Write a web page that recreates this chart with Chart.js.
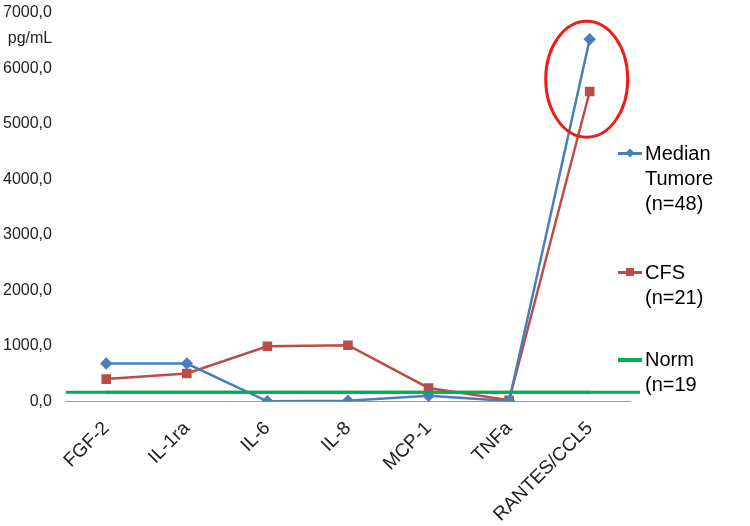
<!DOCTYPE html>
<html>
<head>
<meta charset="utf-8">
<script src="https://cdn.jsdelivr.net/npm/chart.js@4/dist/chart.umd.min.js"></script>
<style>
  body { margin: 0; background: #fff; font-family: "Liberation Sans", Arial, sans-serif; }
  #wrap { position: relative; width: 750px; height: 526px; overflow: hidden; }
  #chart { position: absolute; left: 0; top: -11px; }
  .leg { position: absolute; left: 618px; font-size: 20px; line-height: 25px; color: #000; }
  .leg .mk { position: absolute; left: 0; top: 11px; width: 24px; height: 3px; }
  .leg .pt { position: absolute; left: 8px; width: 8px; height: 8px; }
  .leg .txt { margin-left: 27px; }
</style>
</head>
<body>
<div id="wrap">
  <canvas id="chart" width="750" height="554"></canvas>
  <div class="leg" style="top:141px"><div class="mk" style="background:#4a7ebb"></div><div class="pt" style="background:#4a7ebb;top:8px;transform:rotate(45deg) scale(0.8)"></div><div class="txt">Median<br>Tumore<br>(n=48)</div></div>
  <div class="leg" style="top:260px"><div class="mk" style="background:#be4b48"></div><div class="pt" style="background:#be4b48;top:8px"></div><div class="txt">CFS<br>(n=21)</div></div>
  <div class="leg" style="top:347px"><div class="mk" style="background:#00b050;height:4px"></div><div class="txt">Norm<br>(n=19</div></div>
</div>
<script>
var categories = ["FGF-2", "IL-1ra", "IL-6", "IL-8", "MCP-1", "TNFa", "RANTES/CCL5"];
var medianTumore = [680, 680, 0, 10, 100, 5, 6520];
var cfs = [400, 500, 990, 1010, 240, 20, 5580];
var norm = [165, 165, 165, 165, 165, 165, 165];
var yTicks = [0, 1000, 2000, 3000, 4000, 5000, 6000, 7000];

// extends the Norm line over the full axis, adds unit label and red ellipse
var extras = {
    id: "extras",
    afterDatasetsDraw: function (chart) {
        var ctx = chart.ctx;
        var x = chart.scales.x;
        var y = chart.scales.y;
        var area = chart.chartArea;

        var ny = y.getPixelForValue(norm[0]);
        ctx.save();
        ctx.strokeStyle = "#00b050";
        ctx.lineWidth = 3;
        ctx.beginPath();
        ctx.moveTo(area.left, ny);
        ctx.lineTo(area.right + 10, ny);
        ctx.stroke();

        var cx = x.getPixelForValue(categories.length - 1);
        var cy = y.getPixelForValue(5800);
        ctx.strokeStyle = "#ee1c1c";
        ctx.lineWidth = 3;
        ctx.beginPath();
        ctx.ellipse(cx - 3, cy, 41, 58, 0, 0, Math.PI * 2);
        ctx.stroke();

        ctx.fillStyle = "#222";
        ctx.font = "16px 'Liberation Sans', Arial";
        ctx.textAlign = "center";
        ctx.fillText("pg/mL", 30, 54);
        ctx.restore();
    }
};

function createChart() {
    return new Chart(document.getElementById("chart"), {
        type: "line",
        data: {
            labels: categories,
            datasets: [{
                label: "Median Tumore (n=48)",
                data: medianTumore,
                borderColor: "#4a7ebb",
                backgroundColor: "#4a7ebb",
                borderWidth: 2.5,
                pointStyle: "rectRot",
                pointRadius: 4.5,
                tension: 0
            }, {
                label: "CFS (n=21)",
                data: cfs,
                borderColor: "#be4b48",
                backgroundColor: "#be4b48",
                borderWidth: 2.5,
                pointStyle: "rect",
                pointRadius: 5,
                tension: 0
            }, {
                label: "Norm (n=19",
                data: norm,
                borderColor: "#00b050",
                borderWidth: 3,
                pointRadius: 0
            }]
        },
        options: {
            responsive: false,
            animation: false,
            layout: { padding: { top: -15, right: 120, bottom: 1, left: -11 } },
            plugins: {
                legend: { display: false },
                tooltip: { enabled: false }
            },
            scales: {
                x: {
                    offset: true,
                    grid: { display: false, drawTicks: false },
                    border: { color: "#999", width: 1 },
                    ticks: {
                        color: "#222",
                        font: { size: 19, family: "'Liberation Sans', Arial" },
                        minRotation: 45,
                        maxRotation: 45,
                        padding: 16
                    }
                },
                y: {
                    min: 0,
                    max: 7000,
                    afterBuildTicks: function (axis) {
                        axis.ticks = yTicks.map(function (v) { return { value: v }; });
                    },
                    grid: { display: false, drawTicks: false },
                    border: { display: false },
                    ticks: {
                        color: "#222",
                        font: { size: 16, family: "'Liberation Sans', Arial" },
                        padding: 14,
                        callback: function (v) { return v.toFixed(1).replace(".", ","); }
                    }
                }
            }
        },
        plugins: [extras]
    });
}

createChart();
</script>
</body>
</html>
